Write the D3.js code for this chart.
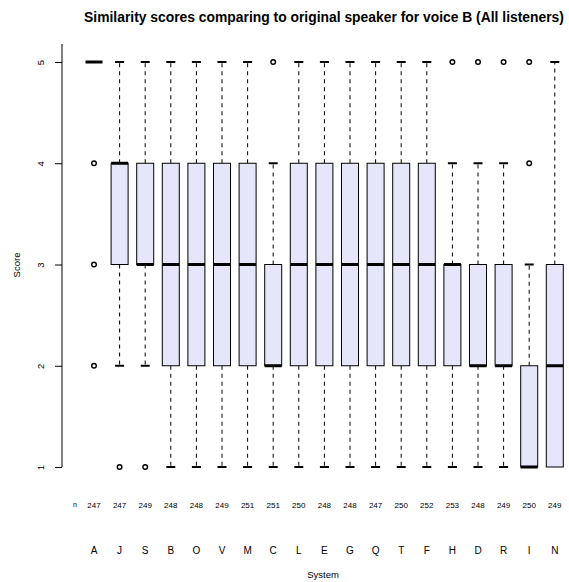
<!DOCTYPE html>
<html><head><meta charset="utf-8">
<script src="https://cdn.jsdelivr.net/npm/d3@7"></script>
<style>body{margin:0;background:#fff}svg{display:block}text{font-family:"Liberation Sans",Arial,sans-serif;fill:#000}</style>
</head><body><svg id="c" width="569" height="582"></svg>
<script>
const categories = ["A","J","S","B","O","V","M","C","L","E","G","Q","T","F","H","D","R","I","N"];
const q1 =      [5,3,3,2,2,2,2,2,2,2,2,2,2,2,2,2,2,1,1];
const medians = [5,4,3,3,3,3,3,2,3,3,3,3,3,3,3,2,2,1,2];
const q3 =      [5,4,4,4,4,4,4,3,4,4,4,4,4,4,3,3,3,2,3];
const whiskLo = [5,2,2,1,1,1,1,1,1,1,1,1,1,1,1,1,1,1,1];
const whiskHi = [5,5,5,5,5,5,5,4,5,5,5,5,5,5,4,4,4,3,5];
const outliers = [[4,3,2],[1],[1],[],[],[],[],[5],[],[],[],[],[],[],[5],[5],[5],[4,5],[]];
const counts = [247,247,249,248,248,249,251,251,250,248,248,247,250,252,253,248,249,250,249];
const yTicks = [1,2,3,4,5];

const svg = d3.select("#c");
const x = d3.scalePoint().domain(categories).range([94, 554.8]);
const y = d3.scaleLinear().domain([1,5]).range([467, 62]);
const bw = 17, cw = 9;

const title = svg.append("text").attr("x",324).attr("y",22).attr("text-anchor","middle")
  .attr("font-size",12).attr("font-weight","bold").text("Similarity scores comparing to original speaker for voice B (All listeners)");
const tw = title.node().getComputedTextLength();
title.attr("font-size", 12 * 480 / tw);

const yAxis = svg.append("g").attr("transform","translate(62,0)")
  .call(d3.axisLeft(y).tickValues(yTicks).tickSize(7).tickFormat(d3.format("d")));
yAxis.select(".domain").attr("d","M0,44V467").attr("stroke","#000");
yAxis.selectAll(".tick line").attr("stroke","#000");
yAxis.selectAll(".tick text").attr("font-size",9.5).attr("font-family","Liberation Sans, Arial, sans-serif")
  .attr("transform","rotate(-90)").attr("x",0).attr("y",-21).attr("dy","0.35em").attr("text-anchor","middle")
  .attr("fill","#000");
svg.append("text").attr("transform","translate(20,265) rotate(-90)").attr("text-anchor","middle")
  .attr("font-size",9.5).text("Score");

const g = svg.append("g");
categories.forEach((c,i)=>{
  const cx = x(c);
  const gg = g.append("g");
  if (whiskHi[i] > q3[i]) {
    gg.append("line").attr("x1",cx).attr("x2",cx).attr("y1",y(q3[i])).attr("y2",y(whiskHi[i]))
      .attr("stroke","#000").attr("stroke-dasharray","4,4");
    gg.append("line").attr("x1",cx-cw/2).attr("x2",cx+cw/2).attr("y1",y(whiskHi[i])).attr("y2",y(whiskHi[i]))
      .attr("stroke","#000").attr("stroke-width",2);
  }
  if (whiskLo[i] < q1[i]) {
    gg.append("line").attr("x1",cx).attr("x2",cx).attr("y1",y(q1[i])).attr("y2",y(whiskLo[i]))
      .attr("stroke","#000").attr("stroke-dasharray","4,4");
    gg.append("line").attr("x1",cx-cw/2).attr("x2",cx+cw/2).attr("y1",y(whiskLo[i])).attr("y2",y(whiskLo[i]))
      .attr("stroke","#000").attr("stroke-width",2);
  }
  gg.append("rect").attr("x",cx-bw/2).attr("width",bw).attr("y",y(q3[i])).attr("height",y(q1[i])-y(q3[i]))
    .attr("fill","#E6E6FA").attr("stroke","#000").attr("stroke-width",1);
  gg.append("line").attr("x1",cx-bw/2).attr("x2",cx+bw/2).attr("y1",y(medians[i])).attr("y2",y(medians[i]))
    .attr("stroke","#000").attr("stroke-width",3);
  outliers[i].forEach(v=>{
    gg.append("circle").attr("cx",cx).attr("cy",y(v)).attr("r",2.3)
      .attr("fill","none").attr("stroke","#000").attr("stroke-width",1.4);
  });
  svg.append("text").attr("x",cx).attr("y",508).attr("text-anchor","middle").attr("font-size",8).text(counts[i]);
  svg.append("text").attr("x",cx).attr("y",554).attr("text-anchor","middle").attr("font-size",10).text(c);
});
svg.append("text").attr("x",75).attr("y",507).attr("text-anchor","middle").attr("font-size",7).text("n");
svg.append("text").attr("x",323).attr("y",578).attr("text-anchor","middle").attr("font-size",9.5).text("System");
</script></body></html>
